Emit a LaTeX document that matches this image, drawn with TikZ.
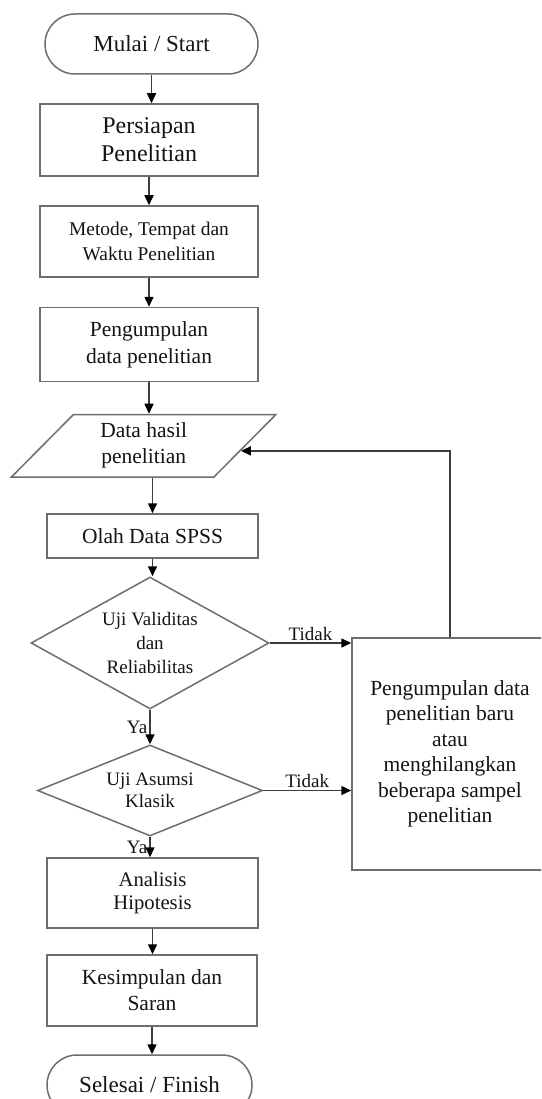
\documentclass[tikz,border=0pt]{standalone}
\usepackage{fontspec}
\setmainfont{Liberation Serif}
\usetikzlibrary{shapes.geometric,arrows.meta,calc}
\definecolor{edge}{RGB}{110,110,110}
\definecolor{wire}{RGB}{60,60,60}
\definecolor{ink}{RGB}{20,20,20}
\tikzset{
  fs/.style 2 args={font=\fontsize{#1}{#2}\selectfont},
  box/.style={draw=edge, line width=1.5pt, fill=white, align=center, inner sep=0pt, text=ink},
  terminal/.style={box, rounded corners=30pt},
  decision/.style={box, diamond},
  io/.style={box, trapezium, trapezium left angle=50, trapezium right angle=130, trapezium stretches=true},
  flow/.style={draw=wire, line width=1.5pt, -{Triangle[length=10pt,width=9pt,color=black]}},
  tag/.style={text=ink, font=\fontsize{19}{21}\selectfont, inner sep=2pt},
}
\begin{document}
\begin{tikzpicture}[x=1pt,y=-1pt]
\useasboundingbox (0,0) rectangle (541,1099);
\clip (0,0) rectangle (541,1099);

% main column
\node[terminal, minimum width=213pt, minimum height=60pt, fs={23}{27}] (start) at (151.5,44) {Mulai / Start};
\node[box, minimum width=218pt, minimum height=72pt, fs={24}{28}] (pers) at (149,140) {Persiapan\\Penelitian};
\node[box, minimum width=218pt, minimum height=71pt, fs={19.4}{25}] (met) at (149,241.5) {Metode, Tempat dan\\Waktu Penelitian};
\node[box, minimum width=218pt, minimum height=74pt, fs={21.5}{27}] (peng) at (149,344.5) {Pengumpulan\\data penelitian};
\node[io, minimum width=264.6pt, minimum height=62.5pt, fs={21.5}{26}] (dat) at (143.7,445.75) {Data hasil\\penelitian};
\node[box, minimum width=211pt, minimum height=44pt, fs={21.5}{25}] (olah) at (152.5,536) {Olah Data SPSS};
\node[decision, shape aspect=1.8, minimum width=238pt, minimum height=132pt, fs={19}{24}] (d1) at (150,643) {Uji Validitas\\dan\\Reliabilitas};
\node[decision, shape aspect=2.47, minimum width=225pt, minimum height=91pt, fs={19}{22.5}] (d2) at (150,790.5) {Uji Asumsi\\Klasik};
\node[box, minimum width=211pt, minimum height=70pt, fs={20.7}{23.5}] (ana) at (152.5,893) {Analisis\\Hipotesis};
\node[box, minimum width=210pt, minimum height=71pt, fs={21.5}{26}] (kes) at (152,990.5) {Kesimpulan dan\\Saran};
\node[terminal, minimum width=205pt, minimum height=60pt, fs={23}{27}] (fin) at (149.5,1085) {Selesai / Finish};

% side box for the rejected branches
\node[box, minimum width=196pt, minimum height=232pt, fs={21.5}{25.5}] (redo) at (450,754)
  {Pengumpulan data\\penelitian baru\\atau\\menghilangkan\\beberapa sampel\\penelitian};

% connectors
\draw[flow] (start.south) -- (start.south |- pers.north);
\draw[flow] (pers.south) -- (pers.south |- met.north);
\draw[flow] (met.south) -- (met.south |- peng.north);
\draw[flow] (peng.south) -- (peng.south |- dat.north);
\draw[flow] (dat.south -| olah.north) -- (olah.north);
\draw[flow] (olah.south) -- (olah.south |- d1.north);
\draw[flow] (d1.south) -- (d2.north) node[midway, left, tag] {Ya};
\draw[flow] (d2.south) -- (d2.south |- ana.north) node[midway, left, tag] {Ya};
\draw[flow] (ana.south) -- (ana.south |- kes.north);
\draw[flow] (kes.south) -- (kes.south |- fin.north);

\draw[flow] (d1.east) -- (d1.east -| redo.west) node[midway, above, tag] {Tidak};
\draw[flow] (d2.east) -- (d2.east -| redo.west) node[midway, above, tag] {Tidak};

\coordinate (fb) at ($(dat.bottom right corner)!0.42!(dat.top right corner)$);
\draw[flow] (redo.north) |- (fb);
\end{tikzpicture}
\end{document}
